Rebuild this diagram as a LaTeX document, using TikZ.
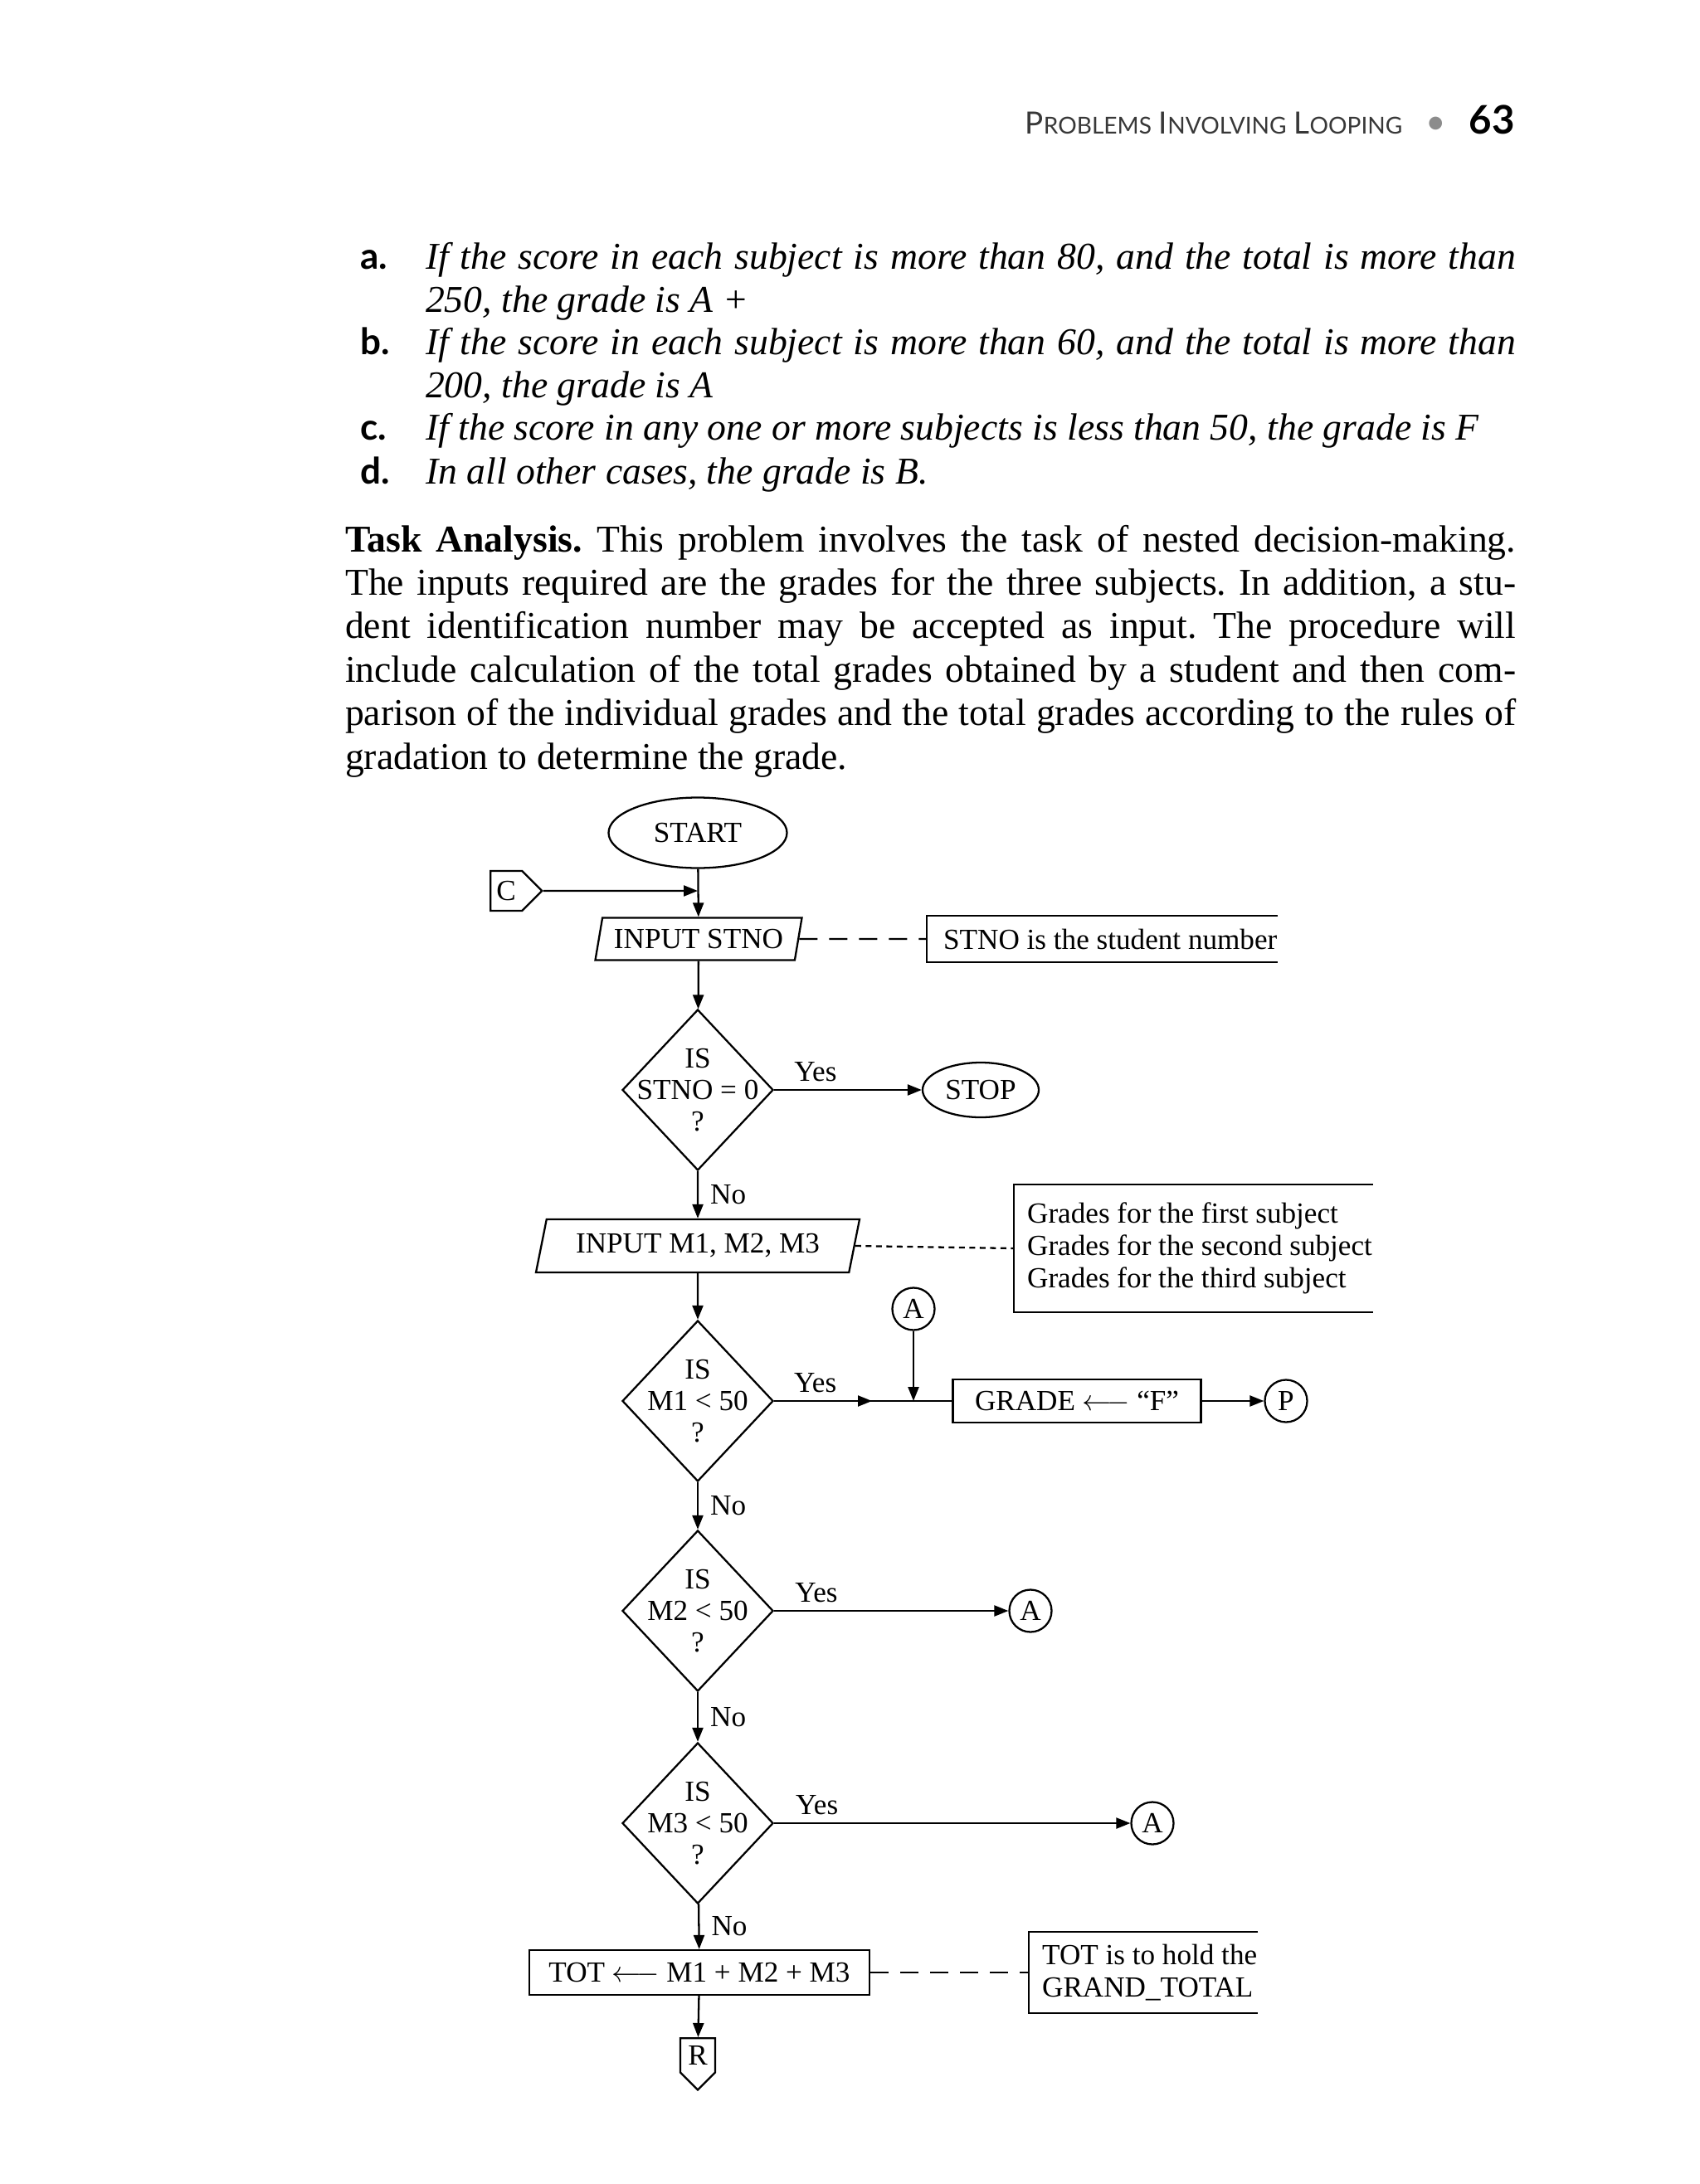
\documentclass[tikz,border=0pt]{standalone}
\usepackage{fontspec}
\setmainfont{Liberation Serif}
\newfontfamily\headsans{Lato}
\usetikzlibrary{arrows.meta,positioning,shapes.geometric,shapes.symbols}

\definecolor{headgray}{gray}{0.22}
\definecolor{dotgray}{gray}{0.55}

% fake small caps for the running head
\newcommand{\runsc}[2]{{\fontsize{10.5}{12}\selectfont#1}{\fontsize{8}{10}\selectfont#2}}
\frenchspacing

\begin{document}
\begin{tikzpicture}[
  >={Triangle[length=0.17cm,width=0.13cm]},
  line width=0.65pt,
  chart/.style={font=\fontsize{10}{11}\selectfont},
  term/.style={chart,draw,ellipse,inner sep=0pt},
  inbox/.style={chart,draw,trapezium,trapezium stretches body,inner sep=0pt},
  proc/.style={chart,draw,inner sep=0pt},
  decision/.style={draw,diamond,minimum width=1.82cm,minimum height=1.94cm,inner sep=0pt},
  dtext/.style={align=center,inner sep=0pt,font=\fontsize{10}{10.8}\selectfont},
  conn/.style={chart,draw,circle,minimum size=0.51cm,inner sep=0pt},
  offpage/.style={chart,draw,signal,inner sep=0pt},
  anno/.style={chart,align=left,inner sep=0pt,anchor=west},
  yes/.style={chart,above,inner sep=2.5pt},
  no/.style={chart,right,inner sep=4pt},
  longdash/.style={dash pattern=on 0.22cm off 0.14cm},
  shortdash/.style={dash pattern=on 0.07cm off 0.055cm},
  body/.style={inner sep=0pt,align=justify,anchor=base west},
  itembody/.style={body,text width=13.14cm,font=\fontsize{13}{14.65}\selectfont\itshape},
  itemlabel/.style={body,font=\headsans\bfseries\fontsize{12.5}{14}\selectfont}
]
  \useasboundingbox (0,0) rectangle (20.48,-26.33);

  % running head
  \node[anchor=base east,inner sep=0pt,font=\headsans,text=headgray] (head) at (18.27,-1.62)
    {\runsc{P}{ROBLEMS} \runsc{I}{NVOLVING} \runsc{L}{OOPING}\hspace{0.28cm}{\color{dotgray}\fontsize{12}{12}\selectfont\textbullet}\hspace{0.28cm}{\color{black}\bfseries\fontsize{13.5}{14}\selectfont 63}};

  % grading rules
  \node[itemlabel] (la) at (4.33,-3.25) {a.};
  \node[itembody] (ta) at (5.12,-3.25)
    {If the score in each subject is more than 80, and the total is more than\linebreak 250, the grade is A +};
  \node[itemlabel] (lb) at (4.33,-4.28) {b.};
  \node[itembody] (tb) at (5.12,-4.28)
    {If the score in each subject is more than 60, and the total is more than\linebreak 200, the grade is A};
  \node[itemlabel] (lc) at (4.33,-5.31) {c.};
  \node[itembody] (tc) at (5.12,-5.31)
    {If the score in any one or more subjects is less than 50, the grade is F};
  \node[itemlabel] (ld) at (4.33,-5.83) {d.};
  \node[itembody] (td) at (5.12,-5.83) {In all other cases, the grade is B.};

  \node[body,text width=14.11cm,font=\fontsize{13}{14.91}\selectfont] (task) at (4.15,-6.65)
    {\textbf{Task Analysis.} This problem involves the task of nested decision-making.\linebreak
     The inputs required are the grades for the three subjects. In addition, a stu-\linebreak
     dent identification number may be accepted as input. The procedure will\linebreak
     include calculation of the total grades obtained by a student and then com-\linebreak
     parison of the individual grades and the total grades according to the rules of\linebreak
     gradation to determine the grade.};

  % flowchart
  \node[term,minimum width=2.15cm,minimum height=0.85cm] (start) at (8.41,-10.04) {START};
  \node[offpage,signal to=east,minimum width=0.62cm,minimum height=0.48cm,anchor=west] (c) at (5.90,-10.74) {C};
  \node[inbox,trapezium left angle=70,trapezium right angle=110,minimum width=2.49cm,minimum height=0.51cm] (inS) at (8.42,-11.32) {INPUT STNO};
  \node[anno,minimum height=0.54cm] (n1) at (11.36,-11.32) {STNO is the student number};
  \node[decision] (q0) at (8.41,-13.14) {};
  \node[dtext] (q0t) at (q0) {IS\\STNO = 0\\?};
  \node[term,minimum width=1.40cm,minimum height=0.66cm] (stop) at (11.82,-13.14) {STOP};
  \node[inbox,trapezium left angle=66,trapezium right angle=114,minimum width=3.90cm,minimum height=0.64cm] (inM) at (8.41,-15.02) {INPUT M1, M2, M3};
  \node[anno,minimum height=1.52cm] (n2) at (12.37,-15.05)
    {Grades for the first subject\\Grades for the second subject\\Grades for the third subject};
  \node[conn] (a1) at (11.01,-15.78) {A};
  \node[decision] (q1) at (8.41,-16.89) {};
  \node[dtext] (q1t) at (q1) {IS\\M1 < 50\\?};
  \node[proc,minimum width=2.99cm,minimum height=0.52cm] (grade) at (12.98,-16.89) {GRADE $\longleftarrow$ “F”};
  \node[conn] (p) at (15.50,-16.89) {P};
  \node[decision] (q2) at (8.41,-19.42) {};
  \node[dtext] (q2t) at (q2) {IS\\M2 < 50\\?};
  \node[conn] (a2) at (12.42,-19.42) {A};
  \node[decision] (q3) at (8.41,-21.98) {};
  \node[dtext] (q3t) at (q3) {IS\\M3 < 50\\?};
  \node[conn] (a3) at (13.89,-21.98) {A};
  \node[proc,minimum width=4.10cm,minimum height=0.54cm] (tot) at (8.43,-23.78) {TOT $\longleftarrow$ M1 + M2 + M3};
  \node[anno,minimum height=0.96cm] (n3) at (12.55,-23.78) {TOT is to hold the\\GRAND\_TOTAL};
  \node[offpage,signal to=south,minimum width=0.42cm,minimum height=0.53cm,anchor=north] (r) at (8.41,-24.56) {R};

  % annotation brackets
  \draw (n1.north east) -- ([xshift=-1.9mm]n1.north west) -- ([xshift=-1.9mm]n1.south west) -- (n1.south east);
  \draw (n2.north east) -- ([xshift=-1.5mm]n2.north west) -- ([xshift=-1.5mm]n2.south west) -- (n2.south east);
  \draw (n3.north east) -- ([xshift=-1.5mm]n3.north west) -- ([xshift=-1.5mm]n3.south west) -- (n3.south east);

  \draw[->] (start) -- (inS);
  \draw[->] (c) -- (c -| start);
  \draw[longdash] (inS.east) -- ([xshift=-1.9mm]n1.west);
  \draw[->] (inS) -- (q0);
  \draw[->] (q0) -- node[yes,pos=.28] {Yes} (stop);
  \draw[->] (q0) -- node[no] {No} (inM);
  \draw[shortdash] (inM.east) -- ([xshift=-1.5mm]n2.west);
  \draw[->] (inM) -- (q1);
  \coordinate (j1) at (a1 |- q1);
  \draw (q1) -- (grade);
  \draw[->] (q1) -- node[yes,pos=.42] {Yes} ([xshift=-5mm]j1);
  \draw[->] (a1) -- (j1);
  \draw[->] (grade) -- (p);
  \draw[->] (q1) -- node[no] {No} (q2);
  \draw[->] (q2) -- node[yes,pos=.18] {Yes} (a2);
  \draw[->] (q2) -- node[no] {No} (q3);
  \draw[->] (q3) -- node[yes,pos=.12] {Yes} (a3);
  \draw[->] (q3) -- node[no] {No} (tot);
  \draw[longdash] (tot) -- ([xshift=-1.5mm]n3.west);
  \draw[->] (tot) -- (r);
\end{tikzpicture}
\end{document}
